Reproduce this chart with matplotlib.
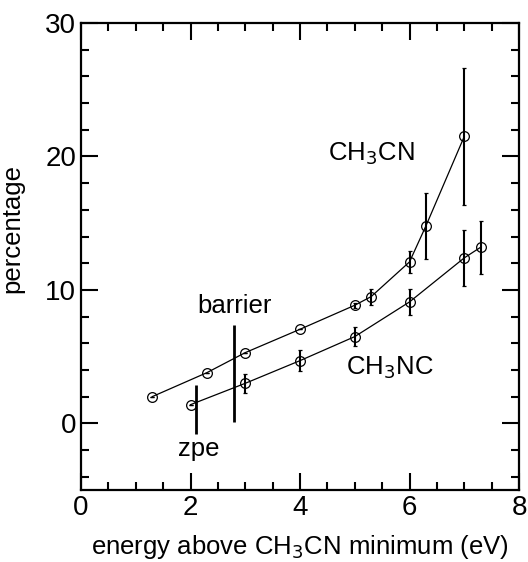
import numpy as np
import matplotlib
matplotlib.use("Agg")
from matplotlib import pyplot as plt

# CH3CN (upper curve)
cn_energy = [1.3, 2.3, 3.0, 4.0, 5.0, 5.3, 6.0, 6.3, 7.0]
cn_percent = [2.0, 3.8, 5.3, 7.05, 8.85, 9.5, 12.1, 14.8, 21.5]
cn_err = [0.0, 0.0, 0.0, 0.0, 0.2, 0.6, 0.8, 2.5, 5.1]

# CH3NC (lower curve)
nc_energy = [2.0, 3.0, 4.0, 5.0, 6.0, 7.0, 7.3]
nc_percent = [1.4, 3.0, 4.7, 6.5, 9.1, 12.4, 13.2]
nc_err = [0.0, 0.7, 0.8, 0.7, 1.0, 2.1, 2.0]

# marker lines: (x, y_bottom, y_top)
zpe_line = (2.1, -0.8, 2.9)
barrier_line = (2.8, 0.1, 7.4)

plt.rcParams['font.family'] = ['Liberation Sans', 'DejaVu Sans']

fig = plt.figure(figsize=(5.28, 5.62), dpi=100)
ax = fig.add_axes([0.1534, 0.128, 0.8296, 0.831])

for x, y, e in [(cn_energy, cn_percent, cn_err), (nc_energy, nc_percent, nc_err)]:
    ax.plot(x, y, '-', color='black', lw=0.9)
    ax.errorbar(x, y, yerr=e, fmt='o', mfc='none', mec='black', ms=7, mew=0.9,
                ecolor='black', elinewidth=1.5, capsize=1.5, capthick=1.5)

ax.vlines(zpe_line[0], zpe_line[1], zpe_line[2], color='black', lw=2)
ax.vlines(barrier_line[0], barrier_line[1], barrier_line[2], color='black', lw=2)

ax.text(2.8, 7.9, 'barrier', fontsize=18.5, ha='center', va='bottom')
ax.text(2.15, -1.0, 'zpe', fontsize=18.5, ha='center', va='top')
ax.text(5.3, 20.2, 'CH$_3$CN', fontsize=18.5, ha='center', va='center')
ax.text(5.65, 4.2, 'CH$_3$NC', fontsize=18.5, ha='center', va='center')

ax.set_xlim(0, 8)
ax.set_ylim(-5, 30)
ax.set_xticks([0, 2, 4, 6, 8])
ax.set_xticks(np.arange(0, 8.01, 0.5), minor=True)
ax.set_yticks([0, 10, 20, 30])
ax.set_yticks(np.arange(-4, 30.01, 2), minor=True)
ax.tick_params(which='both', direction='in', top=True, right=True, width=1.5,
               labelsize=20)
ax.tick_params(which='major', length=12)
ax.tick_params(which='minor', length=6)
for s in ax.spines.values():
    s.set_linewidth(1.6)

ax.set_xlabel('energy above CH$_3$CN minimum (eV)', fontsize=18.5, labelpad=9)
ax.set_ylabel('percentage', fontsize=18.5)
ax.yaxis.set_label_coords(-0.13, 0.56)

fig.savefig('out.png', dpi=100)
